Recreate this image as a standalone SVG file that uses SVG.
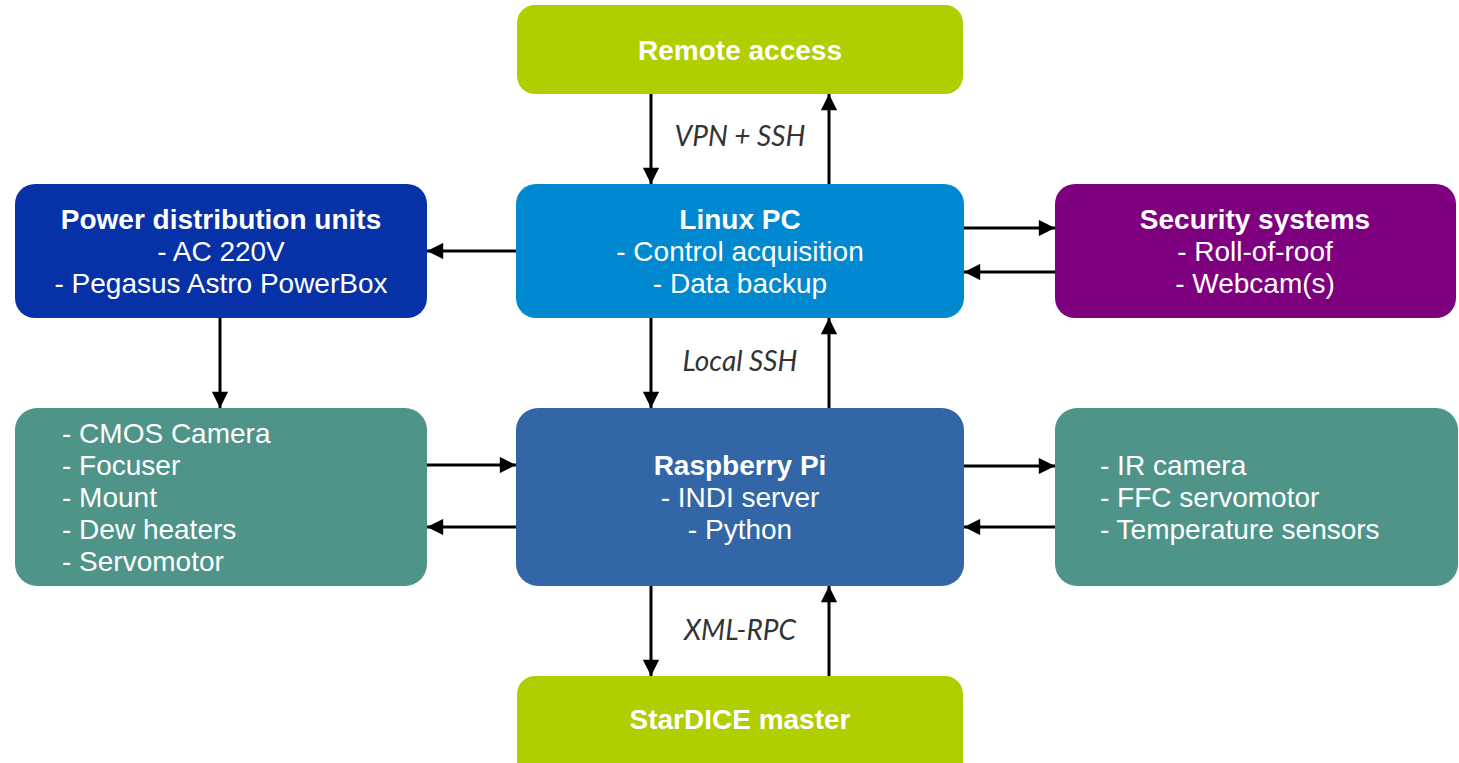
<svg xmlns="http://www.w3.org/2000/svg" width="1459" height="763" viewBox="0 0 1459 763">
<defs>
<marker id="ah" viewBox="0 0 10 10" refX="10" refY="5" markerWidth="6" markerHeight="5.4" markerUnits="strokeWidth" orient="auto">
<path d="M0,0 L10,5 L0,10 z" fill="#000"/>
</marker>
<style>
.t{font-family:"Liberation Sans",Arial,sans-serif;font-size:28px;fill:#fff}
.b{font-weight:bold}
.c{text-anchor:middle}
.lab{font-family:Lato,"Open Sans",sans-serif;font-style:italic;font-size:28px;fill:#333;text-anchor:middle}
.ln{stroke:#000;stroke-width:3;fill:none;marker-end:url(#ah)}
</style>
</defs>
<rect width="1459" height="763" fill="#fff"/>
<g id="remote">
<rect x="517" y="5" width="446" height="89" rx="18" fill="#b0ce00"/>
<text class="t b c" x="740" y="60">Remote access</text>
</g>
<g id="linux">
<rect x="516" y="184" width="448" height="134" rx="20" fill="#0088d1"/>
<text class="t b c" x="740" y="229">Linux PC</text>
<text class="t c" x="740" y="261">- Control acquisition</text>
<text class="t c" x="740" y="293">- Data backup</text>
</g>
<g id="power">
<rect x="15" y="184" width="412" height="134" rx="20" fill="#0731a6"/>
<text class="t b c" x="221" y="229">Power distribution units</text>
<text class="t c" x="221" y="261">- AC 220V</text>
<text class="t c" x="221" y="293">- Pegasus Astro PowerBox</text>
</g>
<g id="security">
<rect x="1055" y="184" width="401" height="134" rx="20" fill="#7f007f"/>
<text class="t b c" x="1255" y="229">Security systems</text>
<text class="t c" x="1255" y="261">- Roll-of-roof</text>
<text class="t c" x="1255" y="293">- Webcam(s)</text>
</g>
<g id="devices">
<rect x="15" y="408" width="412" height="178" rx="22" fill="#4f9489"/>
<text class="t" x="62" y="443">- CMOS Camera</text>
<text class="t" x="62" y="475">- Focuser</text>
<text class="t" x="62" y="507">- Mount</text>
<text class="t" x="62" y="539">- Dew heaters</text>
<text class="t" x="62" y="571">- Servomotor</text>
</g>
<g id="raspberry">
<rect x="516" y="408" width="448" height="178" rx="22" fill="#3366a6"/>
<text class="t b c" x="740" y="475">Raspberry Pi</text>
<text class="t c" x="740" y="507">- INDI server</text>
<text class="t c" x="740" y="539">- Python</text>
</g>
<g id="sensors">
<rect x="1055" y="408" width="403" height="178" rx="22" fill="#4f9489"/>
<text class="t" x="1100" y="475">- IR camera</text>
<text class="t" x="1100" y="507">- FFC servomotor</text>
<text class="t" x="1100" y="539">- Temperature sensors</text>
</g>
<g id="stardice">
<rect x="517" y="676" width="446" height="110" rx="18" fill="#b0ce00"/>
<text class="t b c" x="740" y="729">StarDICE master</text>
</g>
<g id="connectors">
<line class="ln" x1="651" y1="94" x2="651" y2="184"/>
<line class="ln" x1="829" y1="184" x2="829" y2="94"/>
<text class="lab" x="740" y="146">VPN + SSH</text>
<line class="ln" x1="516" y1="251" x2="427" y2="251"/>
<line class="ln" x1="964" y1="228" x2="1055" y2="228"/>
<line class="ln" x1="1055" y1="272" x2="964" y2="272"/>
<line class="ln" x1="220" y1="318" x2="220" y2="408"/>
<line class="ln" x1="651" y1="318" x2="651" y2="408"/>
<line class="ln" x1="829" y1="408" x2="829" y2="318"/>
<text class="lab" x="740" y="371">Local SSH</text>
<line class="ln" x1="427" y1="465" x2="516" y2="465"/>
<line class="ln" x1="516" y1="527" x2="427" y2="527"/>
<line class="ln" x1="964" y1="466" x2="1055" y2="466"/>
<line class="ln" x1="1055" y1="527" x2="964" y2="527"/>
<line class="ln" x1="651" y1="586" x2="651" y2="676"/>
<line class="ln" x1="829" y1="676" x2="829" y2="586"/>
<text class="lab" x="740" y="640">XML-RPC</text>
</g>
</svg>
